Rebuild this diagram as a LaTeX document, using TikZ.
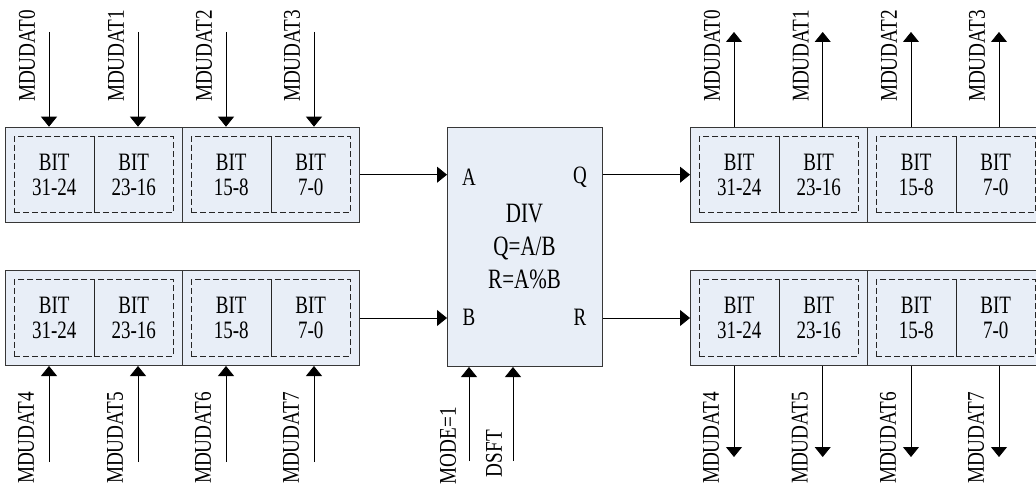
\documentclass[tikz,border=0pt]{standalone}
\usepackage{fontspec}
\setmainfont[FakeStretch=0.76]{Liberation Serif}
\newfontfamily\lblfont[FakeStretch=0.8]{Liberation Serif}
\newfontfamily\divfont[FakeStretch=0.75]{Liberation Serif}
\usetikzlibrary{arrows.meta}
\definecolor{regfill}{RGB}{232,238,247}
\definecolor{edgecol}{RGB}{55,55,55}
\tikzset{
  outerbox/.style={draw=edgecol, fill=regfill, line width=1pt, minimum width=177pt, minimum height=95pt, inner sep=0pt, anchor=north west},
  cellbox/.style={draw=black!85, dash pattern=on 6pt off 3pt, line width=0.9pt, minimum width=79.5pt, minimum height=76pt, inner sep=0pt, anchor=north west, align=center, font=\fontsize{25}{25}\selectfont},
  arr/.style={-{Triangle[width=16pt,length=10pt]}, line width=0.8pt, black},
  lbl/.style={rotate=90, inner sep=0pt, anchor=east, font=\lblfont\fontsize{24}{25}\selectfont},
  port/.style={inner sep=0pt, font=\fontsize{25}{26}\selectfont},
  divtxt/.style={inner sep=0pt, align=center, font=\divfont\fontsize{28}{33}\selectfont},
}
\newcommand\myreg[3]{%
  \node[outerbox] (#1a) at (#2,#3) {};
  \node[outerbox] (#1b) at (#2+177,#3) {};
  \node[cellbox] (#1c1) at (#2+9,#3+9.5) {BIT\\31-24};
  \node[cellbox] (#1c2) at (#2+88.5,#3+9.5) {BIT\\23-16};
  \node[cellbox] (#1c3) at (#2+186,#3+9.5) {BIT\\15-8};
  \node[cellbox] (#1c4) at (#2+265.5,#3+9.5) {BIT\\7-0};
}
\begin{document}
\begin{tikzpicture}[x=1pt,y=-1pt]
\useasboundingbox (0,0) rectangle (1036,486);
\clip (0,0) rectangle (1036,486);
\fill[white] (0,0) rectangle (1036,486);
% registers
\myreg{LA}{5}{126.7}
\myreg{LB}{5}{270}
\myreg{RA}{690}{126.7}
\myreg{RB}{690}{270}
% divider
\node[draw=edgecol, fill=regfill, line width=1pt, minimum width=155pt, minimum height=239pt, inner sep=0pt, anchor=north west] (div) at (447,127) {};
\node[divtxt] (divt) at (524.5,246.5) {DIV\\Q=A/B\\R=A\%B};
\node[port] (pA) at (469,177) {A};
\node[port] (pQ) at (580,177) {Q};
\node[port] (pB) at (469,317) {B};
\node[port] (pR) at (580,317) {R};
% horizontal connectors
\draw[arr] (LAb.east) -- (div.west |- LAb.east);
\draw[arr] (LBb.east) -- (div.west |- LBb.east);
\draw[arr] (div.east |- RAa.west) -- (RAa.west);
\draw[arr] (div.east |- RBa.west) -- (RBa.west);
% top-left inputs
\foreach \i/\x in {0/49,1/138,2/226,3/314}{
  \coordinate (lt\i) at (\x,32);
  \draw[arr] (lt\i) -- (lt\i |- LAa.north);
  \node[lbl] (ltl\i) at (\x-22,10) {MDUDAT\i};
}
% bottom-left inputs
\foreach \i/\n/\x in {0/4/49,1/5/138,2/6/226,3/7/314}{
  \coordinate (lb\i) at (\x,462);
  \draw[arr] (lb\i) -- (lb\i |- LBa.south);
  \node[lbl] (lbl\i) at (\x-23,392) {MDUDAT\n};
}
% top-right outputs
\foreach \i/\x in {0/734,1/822.7,2/911,3/999}{
  \coordinate (rt\i) at (\x,32);
  \draw[arr] (rt\i |- RAa.north) -- (rt\i);
  \node[lbl] (rtl\i) at (\x-22,10) {MDUDAT\i};
}
% bottom-right outputs
\foreach \i/\n/\x in {0/4/734,1/5/822.7,2/6/911,3/7/999}{
  \coordinate (rb\i) at (\x,457);
  \draw[arr] (rb\i |- RBa.south) -- (rb\i);
  \node[lbl] (rbl\i) at (\x-23,392) {MDUDAT\n};
}
% control inputs
\coordinate (mode) at (469,461);
\draw[arr] (mode) -- (mode |- div.south);
\node[lbl] (model) at (448,407) {MODE=1};
\coordinate (dsft) at (513,461);
\draw[arr] (dsft) -- (dsft |- div.south);
\node[lbl] (dsftl) at (494,430) {DSFT};
\end{tikzpicture}
\end{document}
